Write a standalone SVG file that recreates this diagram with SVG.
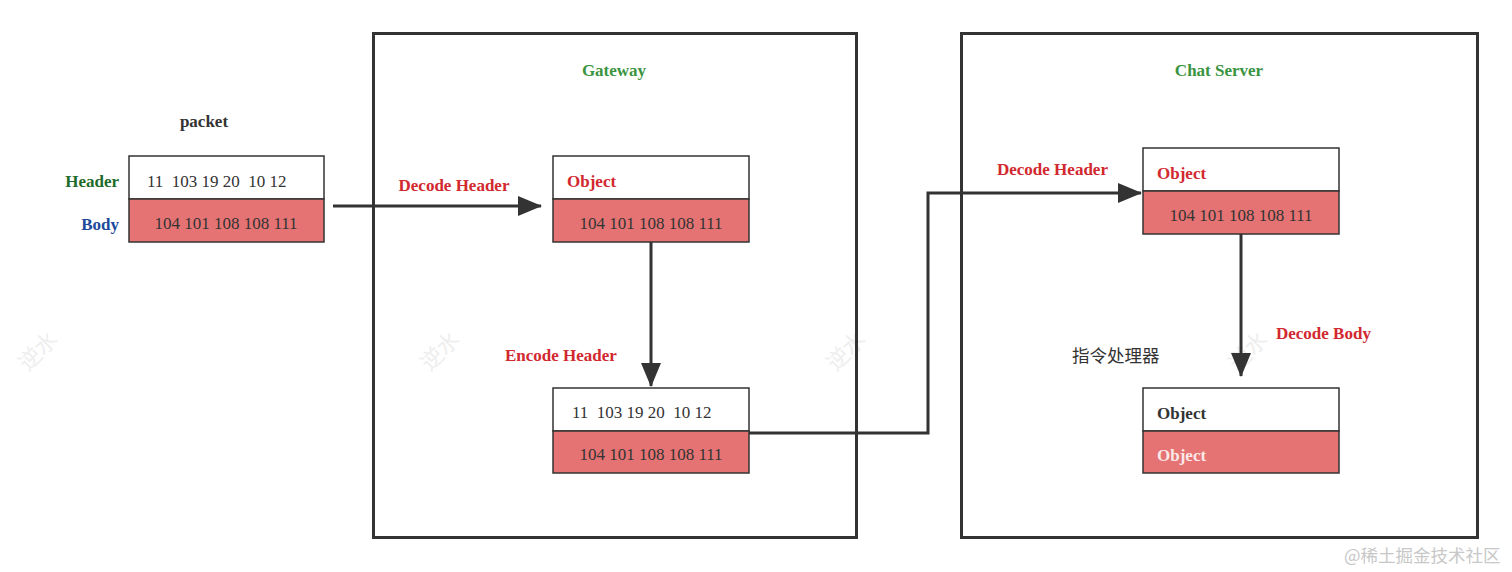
<svg xmlns="http://www.w3.org/2000/svg" width="1512" height="572" viewBox="0 0 1512 572">
<defs>
<style>
text{font-family:"Liberation Serif","Times New Roman","Noto Sans CJK SC",serif;font-size:17px;}
.b{font-weight:bold;}
.red{fill:#d2282f;}
.dk{fill:#333333;}
.box{fill:none;stroke:#333333;stroke-width:3;}
.hd{fill:#ffffff;stroke:#333333;stroke-width:1.5;}
.bd{fill:#e57373;stroke:#333333;stroke-width:1.5;}
.ln{fill:none;stroke:#333333;stroke-width:3;}
.wm{fill:#eeeeee;font-family:"Noto Sans CJK SC",sans-serif;font-size:22px;}
</style>
<marker id="ahb" viewBox="0 0 24 20" refX="23" refY="10" markerWidth="24" markerHeight="20" orient="auto" markerUnits="userSpaceOnUse">
<path d="M0,0 L24,10 L0,20 Z" fill="#333333"/>
</marker>
</defs>
<rect width="1512" height="572" fill="#ffffff"/>
<g id="watermarks">
<text class="wm" transform="translate(28,372) rotate(-45)">逆水</text>
<text class="wm" transform="translate(430,372) rotate(-45)">逆水</text>
<text class="wm" transform="translate(836,372) rotate(-45)">逆水</text>
<text class="wm" transform="translate(1238,372) rotate(-45)">逆水</text>
</g>
<g id="gateway">
<rect class="box" x="373.5" y="33.5" width="483" height="504"/>
<text class="b" x="614" y="76" text-anchor="middle" fill="#3a9440">Gateway</text>
</g>
<g id="chatserver">
<rect class="box" x="961.5" y="33.5" width="516" height="504"/>
<text class="b" x="1219" y="76" text-anchor="middle" fill="#3a9440">Chat Server</text>
</g>
<g id="packet">
<text class="b dk" x="204" y="127" text-anchor="middle">packet</text>
<text class="b" x="119" y="187" text-anchor="end" fill="#1e6b2a">Header</text>
<text class="b" x="119" y="230" text-anchor="end" fill="#1d4a9c">Body</text>
<rect class="hd" x="129" y="156" width="195" height="43"/>
<rect class="bd" x="129" y="199" width="195" height="43"/>
<text class="dk" x="147" y="187" xml:space="preserve">11  103 19 20  10 12</text>
<text class="dk" x="226" y="229" text-anchor="middle">104 101 108 108 111</text>
</g>
<g id="gw-object">
<rect class="hd" x="553" y="156" width="196" height="43"/>
<rect class="bd" x="553" y="199" width="196" height="43"/>
<text class="b red" x="567" y="187">Object</text>
<text class="dk" x="651" y="229" text-anchor="middle">104 101 108 108 111</text>
</g>
<g id="gw-encoded">
<rect class="hd" x="553" y="388" width="196" height="43"/>
<rect class="bd" x="553" y="431" width="196" height="42"/>
<text class="dk" x="572" y="418" xml:space="preserve">11  103 19 20  10 12</text>
<text class="dk" x="651" y="460" text-anchor="middle">104 101 108 108 111</text>
</g>
<g id="cs-object">
<rect class="hd" x="1143" y="148" width="196" height="43"/>
<rect class="bd" x="1143" y="191" width="196" height="43"/>
<text class="b red" x="1157" y="179">Object</text>
<text class="dk" x="1241" y="221" text-anchor="middle">104 101 108 108 111</text>
</g>
<g id="cs-result">
<rect class="hd" x="1143" y="388" width="196" height="43"/>
<rect class="bd" x="1143" y="431" width="196" height="42"/>
<text class="b dk" x="1157" y="419">Object</text>
<text class="b" x="1157" y="461" fill="#fbe8e8">Object</text>
</g>
<g id="handler">
<text x="1072" y="362" fill="#333333" style="font-family:'Noto Sans CJK SC',sans-serif;font-size:17.5px">指令处理器</text>
</g>
<g id="connectors">
<path class="ln" d="M333,206 L541,206" marker-end="url(#ahb)"/>
<path class="ln" d="M651,242 L651,386" marker-end="url(#ahb)"/>
<path class="ln" d="M749,433 L928,433 L928,193 L1141,193" marker-end="url(#ahb)"/>
<path class="ln" d="M1241,234 L1241,376" marker-end="url(#ahb)"/>
<text class="b red" x="454" y="191" text-anchor="middle">Decode Header</text>
<text class="b red" x="505" y="361">Encode Header</text>
<text class="b red" x="997" y="175">Decode Header</text>
<text class="b red" x="1276" y="339">Decode Body</text>
</g>
<g id="credit">
<text x="1344" y="562" fill="#c8c8c8" style="font-family:'Noto Sans CJK SC',sans-serif;font-size:17.5px">@稀土掘金技术社区</text>
</g>
</svg>
